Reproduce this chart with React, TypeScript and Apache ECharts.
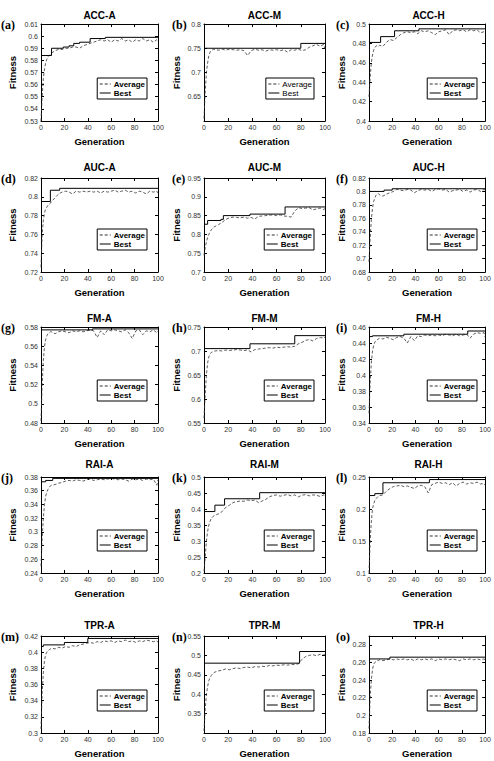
import React, { useEffect, useRef } from 'react';
import * as echarts from 'echarts';

// Generations at which the average fitness is sampled
const GEN = [0, 1, 2, 3, 4, 5, 6, 7, 8,
  9, 12, 15, 18, 21, 24, 27, 30, 33, 36,
  39, 42, 45, 48, 51, 54, 57, 60, 63, 66,
  69, 72, 75, 78, 81, 84, 87, 90, 93, 96,
  99, 100];

const ACC_A_AVG = [0.530, 0.550, 0.565, 0.573, 0.578, 0.581, 0.583, 0.584, 0.585,
  0.586, 0.588, 0.589, 0.589, 0.590, 0.590, 0.591, 0.591, 0.590, 0.592,
  0.593, 0.594, 0.595, 0.596, 0.597, 0.596, 0.597, 0.595, 0.597, 0.596,
  0.598, 0.596, 0.597, 0.595, 0.597, 0.596, 0.598, 0.596, 0.597, 0.595,
  0.597, 0.596];
const ACC_A_BEST = [[0, 0.584], [9, 0.590], [19, 0.591], [24, 0.592], [28, 0.594], [33, 0.595], [42, 0.598], [55, 0.599], [100, 0.599]];

const ACC_M_AVG = [0.605, 0.660, 0.700, 0.720, 0.735, 0.742, 0.745, 0.747, 0.748,
  0.747, 0.746, 0.748, 0.746, 0.748, 0.747, 0.746, 0.747, 0.745, 0.735,
  0.745, 0.748, 0.746, 0.747, 0.744, 0.747, 0.746, 0.747, 0.745, 0.747,
  0.742, 0.747, 0.746, 0.748, 0.745, 0.747, 0.752, 0.755, 0.758, 0.754,
  0.758, 0.748];
const ACC_M_BEST = [[0, 0.75], [80, 0.76], [100, 0.76]];

const ACC_H_AVG = [0.425, 0.445, 0.460, 0.468, 0.473, 0.476, 0.477, 0.478, 0.477,
  0.478, 0.477, 0.481, 0.484, 0.483, 0.486, 0.489, 0.491, 0.492, 0.491,
  0.492, 0.490, 0.493, 0.492, 0.493, 0.491, 0.489, 0.492, 0.493, 0.494,
  0.489, 0.493, 0.494, 0.493, 0.494, 0.492, 0.494, 0.493, 0.494, 0.491,
  0.492, 0.490];
const ACC_H_BEST = [[0, 0.481], [10, 0.487], [22, 0.493], [43, 0.495], [100, 0.495]];

const AUC_A_AVG = [0.725, 0.760, 0.775, 0.783, 0.787, 0.789, 0.791, 0.792, 0.793,
  0.795, 0.799, 0.803, 0.805, 0.806, 0.805, 0.803, 0.806, 0.805, 0.806,
  0.805, 0.806, 0.805, 0.806, 0.804, 0.806, 0.805, 0.806, 0.807, 0.805,
  0.806, 0.807, 0.805, 0.806, 0.804, 0.806, 0.805, 0.803, 0.806, 0.805,
  0.806, 0.804];
const AUC_A_BEST = [[0, 0.795], [8, 0.807], [16, 0.809], [100, 0.809]];

const AUC_M_AVG = [0.745, 0.765, 0.780, 0.792, 0.800, 0.807, 0.812, 0.816, 0.819,
  0.821, 0.826, 0.832, 0.840, 0.844, 0.846, 0.845, 0.844, 0.846, 0.843,
  0.845, 0.841, 0.848, 0.849, 0.850, 0.851, 0.852, 0.850, 0.852, 0.849,
  0.848, 0.846, 0.862, 0.871, 0.869, 0.870, 0.871, 0.865, 0.868, 0.870,
  0.866, 0.869];
const AUC_M_BEST = [[0, 0.827], [3, 0.837], [14, 0.840], [16, 0.850], [38, 0.854], [67, 0.873], [100, 0.873]];

const AUC_H_AVG = [0.695, 0.730, 0.758, 0.775, 0.785, 0.790, 0.794, 0.796, 0.797,
  0.795, 0.793, 0.796, 0.798, 0.800, 0.803, 0.802, 0.801, 0.803, 0.802,
  0.798, 0.801, 0.803, 0.802, 0.803, 0.800, 0.803, 0.804, 0.802, 0.803,
  0.799, 0.801, 0.802, 0.803, 0.800, 0.802, 0.799, 0.802, 0.803, 0.800,
  0.803, 0.802];
const AUC_H_BEST = [[0, 0.800], [13, 0.802], [20, 0.804], [100, 0.804]];

const FM_A_AVG = [0.482, 0.520, 0.545, 0.560, 0.567, 0.571, 0.573, 0.574, 0.575,
  0.575, 0.573, 0.575, 0.576, 0.575, 0.574, 0.576, 0.575, 0.576, 0.575,
  0.576, 0.577, 0.576, 0.569, 0.576, 0.572, 0.577, 0.576, 0.577, 0.576,
  0.575, 0.577, 0.574, 0.568, 0.576, 0.577, 0.572, 0.576, 0.575, 0.577,
  0.574, 0.576];
const FM_A_BEST = [[0, 0.577], [44, 0.578], [100, 0.578]];

const FM_M_AVG = [0.560, 0.610, 0.650, 0.675, 0.688, 0.694, 0.697, 0.698, 0.699,
  0.700, 0.701, 0.700, 0.702, 0.701, 0.702, 0.703, 0.702, 0.701, 0.702,
  0.698, 0.703, 0.704, 0.705, 0.706, 0.707, 0.706, 0.708, 0.707, 0.708,
  0.709, 0.708, 0.710, 0.715, 0.718, 0.722, 0.724, 0.721, 0.726, 0.728,
  0.727, 0.729];
const FM_M_BEST = [[0, 0.705], [38, 0.715], [75, 0.732], [100, 0.732]];

const FM_H_AVG = [0.352, 0.390, 0.415, 0.430, 0.437, 0.441, 0.443, 0.444, 0.445,
  0.446, 0.445, 0.447, 0.446, 0.444, 0.447, 0.448, 0.446, 0.440, 0.448,
  0.443, 0.449, 0.448, 0.450, 0.449, 0.450, 0.449, 0.450, 0.449, 0.451,
  0.450, 0.449, 0.451, 0.449, 0.450, 0.451, 0.446, 0.451, 0.453, 0.452,
  0.453, 0.447];
const FM_H_BEST = [[0, 0.448], [3, 0.449], [30, 0.451], [85, 0.455], [100, 0.455]];

const RAI_A_AVG = [0.250, 0.290, 0.320, 0.340, 0.352, 0.358, 0.362, 0.365, 0.367,
  0.368, 0.369, 0.371, 0.372, 0.374, 0.375, 0.374, 0.376, 0.375, 0.374,
  0.376, 0.377, 0.375, 0.376, 0.377, 0.376, 0.377, 0.378, 0.377, 0.376,
  0.377, 0.376, 0.374, 0.377, 0.376, 0.377, 0.375, 0.377, 0.376, 0.377,
  0.368, 0.376];
const RAI_A_BEST = [[0, 0.373], [4, 0.375], [10, 0.378], [100, 0.378]];

const RAI_M_AVG = [0.205, 0.250, 0.300, 0.330, 0.350, 0.362, 0.370, 0.375, 0.378,
  0.380, 0.385, 0.392, 0.405, 0.412, 0.420, 0.423, 0.425, 0.424, 0.428,
  0.426, 0.428, 0.420, 0.425, 0.430, 0.438, 0.442, 0.444, 0.440, 0.443,
  0.445, 0.441, 0.444, 0.438, 0.443, 0.445, 0.441, 0.444, 0.443, 0.439,
  0.444, 0.442];
const RAI_M_BEST = [[0, 0.392], [9, 0.412], [17, 0.432], [46, 0.451], [100, 0.451]];

const RAI_H_AVG = [0.100, 0.150, 0.180, 0.200, 0.208, 0.213, 0.216, 0.218, 0.220,
  0.221, 0.222, 0.228, 0.232, 0.235, 0.236, 0.237, 0.235, 0.236, 0.234,
  0.232, 0.236, 0.237, 0.235, 0.225, 0.238, 0.240, 0.242, 0.240, 0.241,
  0.238, 0.241, 0.236, 0.240, 0.242, 0.239, 0.241, 0.240, 0.242, 0.239,
  0.240, 0.237];
const RAI_H_BEST = [[0, 0.221], [5, 0.224], [12, 0.241], [52, 0.246], [100, 0.246]];

const TPR_A_AVG = [0.305, 0.350, 0.375, 0.390, 0.397, 0.400, 0.402, 0.403, 0.404,
  0.405, 0.404, 0.406, 0.405, 0.407, 0.406, 0.408, 0.407, 0.409, 0.410,
  0.411, 0.412, 0.411, 0.413, 0.412, 0.414, 0.413, 0.414, 0.412, 0.414,
  0.413, 0.415, 0.413, 0.414, 0.412, 0.414, 0.413, 0.415, 0.414, 0.413,
  0.414, 0.412];
const TPR_A_BEST = [[0, 0.407], [2, 0.409], [20, 0.412], [40, 0.417], [100, 0.417]];

const TPR_M_AVG = [0.305, 0.360, 0.400, 0.420, 0.435, 0.443, 0.448, 0.452, 0.455,
  0.457, 0.460, 0.462, 0.465, 0.463, 0.466, 0.468, 0.466, 0.469, 0.470,
  0.468, 0.471, 0.470, 0.472, 0.471, 0.474, 0.473, 0.475, 0.474, 0.476,
  0.475, 0.476, 0.477, 0.478, 0.490, 0.497, 0.500, 0.502, 0.499, 0.503,
  0.501, 0.502];
const TPR_M_BEST = [[0, 0.48], [79, 0.51], [100, 0.51]];

const TPR_H_AVG = [0.185, 0.220, 0.240, 0.252, 0.258, 0.260, 0.261, 0.262, 0.262,
  0.263, 0.262, 0.263, 0.264, 0.263, 0.264, 0.263, 0.264, 0.263, 0.264,
  0.262, 0.264, 0.263, 0.264, 0.263, 0.264, 0.262, 0.264, 0.263, 0.264,
  0.263, 0.264, 0.263, 0.262, 0.264, 0.263, 0.264, 0.263, 0.264, 0.263,
  0.264, 0.263];
const TPR_H_BEST = [[0, 0.264], [18, 0.266], [100, 0.266]];

const TITLES = ['ACC-A', 'ACC-M', 'ACC-H', 'AUC-A', 'AUC-M', 'AUC-H', 'FM-A', 'FM-M', 'FM-H',
  'RAI-A', 'RAI-M', 'RAI-H', 'TPR-A', 'TPR-M', 'TPR-H'];
const PANEL_LABELS = ['(a)', '(b)', '(c)', '(d)', '(e)', '(f)', '(g)', '(h)', '(i)',
  '(j)', '(k)', '(l)', '(m)', '(n)', '(o)'];
const AVERAGES = [ACC_A_AVG, ACC_M_AVG, ACC_H_AVG, AUC_A_AVG, AUC_M_AVG, AUC_H_AVG,
  FM_A_AVG, FM_M_AVG, FM_H_AVG, RAI_A_AVG, RAI_M_AVG, RAI_H_AVG, TPR_A_AVG, TPR_M_AVG, TPR_H_AVG];
const BESTS = [ACC_A_BEST, ACC_M_BEST, ACC_H_BEST, AUC_A_BEST, AUC_M_BEST, AUC_H_BEST,
  FM_A_BEST, FM_M_BEST, FM_H_BEST, RAI_A_BEST, RAI_M_BEST, RAI_H_BEST, TPR_A_BEST, TPR_M_BEST, TPR_H_BEST];
const Y_MIN = [0.53, 0.6, 0.4, 0.72, 0.7, 0.68, 0.48, 0.55, 0.34, 0.24, 0.2, 0.1, 0.3, 0.3, 0.18];
const Y_MAX = [0.61, 0.8, 0.5, 0.82, 0.95, 0.82, 0.58, 0.75, 0.46, 0.38, 0.5, 0.25, 0.42, 0.55, 0.29];
const Y_INT = [0.01, 0.05, 0.02, 0.02, 0.05, 0.02, 0.02, 0.05, 0.02, 0.02, 0.05, 0.05, 0.02, 0.05, 0.02];
const HIDE_MIN_LABEL = [false, true, false, false, false, false, false, false, false, false, false, false, false, true, false];
const HIDE_MAX_LABEL = [false, false, false, false, false, false, false, false, false, false, false, false, false, false, true];
const X_MIN = 0;
const X_MAX = 100;
const X_INT = 20;

// layout (pixels)
const W = 494;
const H = 761;
const COL_LEFT = [41, 204, 369];
const COL_RIGHT = [158, 325, 488];
const ROW_TOP = [24, 178, 327, 477, 636];
const ROW_BOTTOM = [121, 272, 423, 573, 733];
const TITLE_Y = [15.7, 167.7, 318.7, 464.5, 625];
const LABEL_X = [1, 172, 336];
const NAME_GAP_Y = [24, 23, 23];

const SANS = '"Liberation Sans", Arial, Helvetica, sans-serif';
const SERIF = '"Liberation Serif", "Times New Roman", serif';

function fmt(v: number) {
  return String(parseFloat(v.toFixed(3)));
}

function buildOption() {
  const grid: any[] = [];
  const xAxis: any[] = [];
  const yAxis: any[] = [];
  const series: any[] = [];
  const legend: any[] = [];
  const graphic: any[] = [];

  TITLES.forEach((title, i) => {
    const row = Math.floor(i / 3);
    const col = i % 3;
    const L = COL_LEFT[col];
    const R = COL_RIGHT[col];
    const T = ROW_TOP[row];
    const B = ROW_BOTTOM[row];
    grid.push({ left: L, top: T, width: R - L, height: B - T, containLabel: false });

    const lineStyle = { color: '#000', width: 1 };
    xAxis.push({
      type: 'value', gridIndex: i, min: X_MIN, max: X_MAX, interval: X_INT, position: 'bottom',
      name: 'Generation', nameLocation: 'middle', nameGap: 15,
      nameTextStyle: { fontFamily: SANS, fontWeight: 'bold', fontSize: 9.5, color: '#000' },
      axisLine: { show: true, onZero: false, lineStyle },
      axisTick: { show: true, inside: true, length: 3, lineStyle },
      axisLabel: { show: true, margin: 3, fontFamily: SANS, fontSize: 7, color: '#333' },
      splitLine: { show: false },
    });
    xAxis.push({
      type: 'value', gridIndex: i, min: X_MIN, max: X_MAX, interval: X_INT, position: 'top',
      axisLine: { show: true, onZero: false, lineStyle },
      axisTick: { show: true, inside: true, length: 3, lineStyle },
      axisLabel: { show: false },
      splitLine: { show: false },
    });
    yAxis.push({
      type: 'value', gridIndex: i, min: Y_MIN[i], max: Y_MAX[i], interval: Y_INT[i], position: 'left',
      name: 'Fitness', nameLocation: 'middle', nameGap: NAME_GAP_Y[col],
      nameTextStyle: { fontFamily: SANS, fontWeight: 'bold', fontSize: 9.5, color: '#000' },
      axisLine: { show: true, onZero: false, lineStyle },
      axisTick: { show: true, inside: true, length: 3, lineStyle },
      axisLabel: {
        show: true, margin: 3, fontFamily: SANS, fontSize: 7, color: '#333',
        formatter: (v: number) => fmt(v),
        showMinLabel: !HIDE_MIN_LABEL[i], showMaxLabel: !HIDE_MAX_LABEL[i],
      },
      splitLine: { show: false },
    });
    yAxis.push({
      type: 'value', gridIndex: i, min: Y_MIN[i], max: Y_MAX[i], interval: Y_INT[i], position: 'right',
      axisLine: { show: true, onZero: false, lineStyle },
      axisTick: { show: true, inside: true, length: 3, lineStyle },
      axisLabel: { show: false },
      splitLine: { show: false },
    });

    series.push({
      type: 'line', name: 'Average', xAxisIndex: 2 * i, yAxisIndex: 2 * i,
      data: GEN.map((g, k) => [g, AVERAGES[i][k]]),
      symbol: 'none', showSymbol: false,
      lineStyle: { color: '#333', width: 0.8, type: [3, 2] },
      itemStyle: { color: '#333' },
      z: 2,
    });
    series.push({
      type: 'line', name: 'Best', xAxisIndex: 2 * i, yAxisIndex: 2 * i,
      data: BESTS[i], step: 'end',
      symbol: 'none', showSymbol: false,
      lineStyle: { color: '#000', width: 1 },
      itemStyle: { color: '#000' },
      z: 3,
    });

    legend.push({
      data: ['Average', 'Best'],
      orient: 'vertical',
      right: W - (R - 11),
      top: B - 43,
      backgroundColor: '#fff',
      borderColor: '#000',
      borderWidth: 1,
      borderRadius: 0,
      padding: [2, 2, 2, 2],
      itemGap: 1,
      itemWidth: 11,
      itemHeight: 8,
      selectedMode: false,
      itemStyle: { opacity: 0 },
      lineStyle: { width: 1 },
      textStyle: { fontFamily: SANS, fontSize: 8, fontWeight: i === 1 ? 'normal' : 'bold', color: '#000', padding: [0, 0, 0, -2] },
    });

    graphic.push({
      type: 'text', x: (L + R) / 2, y: TITLE_Y[row],
      style: { text: title, align: 'center', verticalAlign: 'middle', font: 'bold 10px ' + SANS, fill: '#000' },
    });
    graphic.push({
      type: 'text', x: LABEL_X[col], y: T + 1,
      style: { text: PANEL_LABELS[i], align: 'left', verticalAlign: 'middle', font: 'bold 12px ' + SERIF, fill: '#000' },
    });
  });

  return {
    animation: false,
    backgroundColor: '#fff',
    grid, xAxis, yAxis, series, legend, graphic,
  };
}

export default function App() {
  const ref = useRef<HTMLDivElement>(null);
  useEffect(() => {
    if (!ref.current) return;
    const chart = echarts.init(ref.current, null, { renderer: 'svg' });
    chart.setOption(buildOption() as any);
    return () => chart.dispose();
  }, []);
  return (
    <div
      ref={ref}
      style={{ position: 'absolute', left: 0, top: 0, width: W, height: H, background: '#fff' }}
    />
  );
}
